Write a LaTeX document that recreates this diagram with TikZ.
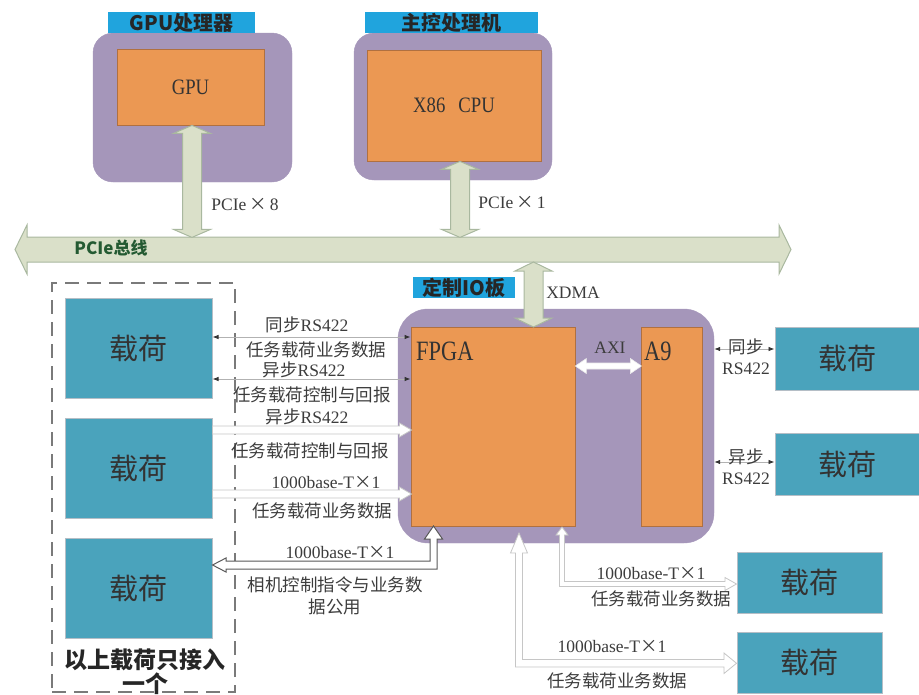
\documentclass[tikz,border=0pt]{standalone}
\usepackage{fontspec}
\usepackage{graphicx}
\setmainfont{Liberation Serif}
\newfontfamily\cjk{Noto Sans CJK SC}
\usetikzlibrary{arrows.meta,calc}
\newcommand\zh[1]{{\cjk #1}}
\newcommand\tms{{\cjk ×}}
\definecolor{tblue}{HTML}{20A4DD}
\definecolor{purp}{HTML}{A596BA}
\definecolor{orng}{HTML}{EB9853}
\definecolor{orngd}{HTML}{B07040}
\definecolor{teal1}{HTML}{4AA3BC}
\definecolor{tealb}{HTML}{B5BEC6}
\definecolor{busf}{HTML}{DAE0C9}
\definecolor{buss}{HTML}{A9B89F}
\definecolor{txt}{HTML}{3C3C3C}
\definecolor{dgreen}{HTML}{245A32}
\definecolor{grayd}{HTML}{7A7A7A}
% vertical double block arrow: style, top tip, length, shaft half, head half, head length
\newcommand\dblV[6]{\filldraw[#1] #2 -- ++(#5,#6) -- ++({#4-#5},0) -- ++(0,{#3-2*#6}) -- ++({#5-#4},0) -- ++({-#5},#6) -- ++({-#5},{-#6}) -- ++({#5-#4},0) -- ++(0,{2*#6-#3}) -- ++({#4-#5},0) -- cycle;}
% horizontal double block arrow: style, left tip, length, shaft half, head half, head length
\newcommand\dblH[6]{\filldraw[#1] #2 -- ++(#6,{-#5}) -- ++(0,{#5-#4}) -- ++({#3-2*#6},0) -- ++(0,{#4-#5}) -- ++(#6,#5) -- ++({-#6},#5) -- ++(0,{#4-#5}) -- ++({2*#6-#3},0) -- ++(0,{#5-#4}) -- cycle;}
% right single block arrow: style, left shaft centre, length, shaft half, head half, head length
\newcommand\rArr[6]{\filldraw[#1] #2 ++(0,{-#4}) -- ++({#3-#6},0) -- ++(0,{#4-#5}) -- ++(#6,#5) -- ++({-#6},#5) -- ++(0,{#4-#5}) -- ++({#6-#3},0) -- cycle;}
\begin{document}
\begin{tikzpicture}[x=1pt,y=-1pt,
  ttl/.style={fill=tblue, inner sep=0, outer sep=0, font=\cjk\bfseries\fontsize{20}{20}\selectfont, text=black!85},
  purpbox/.style={fill=purp, draw=purp, rounded corners=20pt, inner sep=0},
  chip/.style={fill=orng, draw=orngd, line width=0.8pt, inner sep=0, font=\fontsize{22}{22}\selectfont, text=black!80},
  payload/.style={fill=teal1, draw=tealb, line width=1pt, inner sep=0, font=\cjk\fontsize{29}{29}\selectfont, text=black!80},
  lbl/.style={font=\fontsize{17.5}{17.5}\selectfont, text=txt, inner sep=0},
  biglat/.style={font=\fontsize{28}{28}\selectfont, text=black!80, inner sep=0},
  tharrow/.style={draw=gray!60, line width=0.8pt, >={Latex[length=6pt,width=4.5pt,color=black!80]}, <->},
  busarrow/.style={fill=busf, draw=buss, line width=1pt},
  warrow/.style={fill=white, draw=gray!45, line width=0.8pt},
  darrow/.style={fill=white, draw=black!65, line width=1pt},
  axarrow/.style={fill=white, draw=white!85!gray, line width=0.6pt}
]
\useasboundingbox (0,0) rectangle (919,694);
\clip (0,0) rectangle (919,694);

% GPU processor
\node[purpbox, minimum width=199pt, minimum height=149pt] (gpuout) at (192.5,107.5) {};
\node[chip, minimum width=147pt, minimum height=76pt] (gpuin) at (190.5,87) {\scalebox{0.85}[1]{GPU}};
\node[ttl, minimum width=147pt, minimum height=21pt] (gputtl) at (181.5,22.5) {GPU处理器};

% main control
\node[purpbox, minimum width=198pt, minimum height=147pt] (cpuout) at (453,106.5) {};
\node[chip, minimum width=174pt, minimum height=111pt] (cpuin) at (454,105.5) {\scalebox{0.85}[1]{X86\hspace{0.7em}CPU}};
\node[ttl, minimum width=173pt, minimum height=21pt] (cputtl) at (451.5,22.5) {主控处理机};

% IO board
\node[purpbox, rounded corners=30pt, minimum width=316pt, minimum height=234pt] (io) at (556,426) {};
\node[chip, minimum width=164pt, minimum height=199pt] (fpga) at (493,426.5) {};
\node[chip, minimum width=61pt, minimum height=199pt] (a9) at (671.5,426.5) {};
\node[ttl, minimum width=102pt, minimum height=21pt] (iottl) at (464,287.5) {定制IO板};
\node[biglat, anchor=west] (fpgat) at (416,351) {\scalebox{0.8}[1]{FPGA}};
\node[biglat, anchor=west] (a9t) at (644,351) {\scalebox{0.8}[1]{A9}};

% PCIe bus
\coordinate (busL) at (15,249.5);
\dblH{busarrow}{(busL)}{776}{12.5}{24.5}{12}
\node[font=\cjk\bfseries\fontsize{17}{17}\selectfont, text=dgreen, inner sep=0] (bustxt) at (111,248) {PCIe总线};

% vertical links
\dblV{busarrow}{($(gpuin.south)+(1.5,0)$)}{112}{9.5}{18.5}{8}
\dblV{busarrow}{($(cpuin.south)+(6,0)$)}{76}{9.5}{18.5}{8}
\coordinate (xdt) at (533.5,262);
\dblV{busarrow}{(xdt)}{65}{9.5}{18.5}{9}

% AXI
\coordinate (yg) at (0,366);
\dblH{axarrow}{(fpga.east |- yg)}{66}{3}{7.5}{11}

% left group
\node[draw=grayd, dashed, dash pattern=on 14pt off 8pt, line width=1.3pt, minimum width=183pt, minimum height=409pt, inner sep=0] (grp) at (143.5,487.5) {};
\node[payload, minimum width=147pt, minimum height=100pt] (lp1) at (138.5,348) {载荷};
\node[payload, minimum width=147pt, minimum height=100pt] (lp2) at (138.5,468) {载荷};
\node[payload, minimum width=147pt, minimum height=100pt] (lp3) at (138.5,588) {载荷};
\node[font=\cjk\bfseries\fontsize{23}{23}\selectfont, text=black!85, inner sep=0] (note1) at (145,660) {以上载荷只接入};
\node[font=\cjk\bfseries\fontsize{23}{23}\selectfont, text=black!85, inner sep=0] (note2) at (145,684) {一个};

% right payloads
\node[payload, minimum width=145pt, minimum height=63pt] (rp1) at (847.5,358.5) {载荷};
\node[payload, minimum width=145pt, minimum height=62pt] (rp2) at (847.5,464) {载荷};
\node[payload, minimum width=145pt, minimum height=61pt] (rp3) at (809.5,582.5) {载荷};
\node[payload, minimum width=145pt, minimum height=61pt] (rp4) at (809.5,662.5) {载荷};

% thin RS422 links
\coordinate (ya) at (0,337);
\coordinate (yb) at (0,379);
\coordinate (yc) at (0,349);
\coordinate (yd) at (0,462);
\draw[tharrow] (lp1.east |- ya) -- (fpga.west |- ya);
\draw[tharrow] (lp1.east |- yb) -- (fpga.west |- yb);
\draw[tharrow] (io.east |- yc) -- (rp1.west |- yc);
\draw[tharrow] (io.east |- yd) -- (rp2.west |- yd);

% white block arrows left
\coordinate (ye) at (0,430);
\coordinate (yf) at (0,494);
\rArr{warrow}{(lp2.east |- ye)}{199}{4}{7}{12}
\rArr{warrow}{(lp2.east |- yf)}{199}{4}{7}{12}

% bottom left L arrow (FPGA <-> lp3)
\filldraw[darrow] (433.5,526) -- (442.5,539) -- (437,539) -- (437,569) -- (226,569) -- (226,572) -- (lp3.east |- 0,565) -- (226,558) -- (226,561) -- (430,561) -- (430,539) -- (424.5,539) -- cycle;

% bottom right L arrows
\filldraw[warrow] (562,527) -- (568,535) -- (564.5,535) -- (564.5,581.5) -- (725,581.5) -- (725,577.5) -- (rp3.west |- 0,584) -- (725,590.5) -- (725,586.5) -- (559.5,586.5) -- (559.5,535) -- (556,535) -- cycle;
\filldraw[warrow] (519,533) -- (527.5,553) -- (522.5,553) -- (522.5,659.5) -- (724,659.5) -- (724,653) -- (rp4.west |- 0,663.25) -- (724,673.5) -- (724,667) -- (515.5,667) -- (515.5,553) -- (510.5,553) -- cycle;

% labels
\node[lbl] (p8) at (245,204) {PCIe\,\tms\,8};
\node[lbl] (p1) at (512,202) {PCIe\,\tms\,1};
\node[lbl] (xdma) at (573,293) {XDMA};
\node[lbl] (axi) at (610,348) {AXI};
\node[lbl] (t1) at (307,325) {\zh{同步}RS422};
\node[lbl] (t2) at (316,350) {\zh{任务载荷业务数据}};
\node[lbl] (t3) at (304,370) {\zh{异步}RS422};
\node[lbl] (t4) at (312,395) {\zh{任务载荷控制与回报}};
\node[lbl] (t5) at (307,417) {\zh{异步}RS422};
\node[lbl] (t6) at (310,451) {\zh{任务载荷控制与回报}};
\node[lbl] (t7) at (326,482) {1000base-T\tms 1};
\node[lbl] (t8) at (322,511) {\zh{任务载荷业务数据}};
\node[lbl] (t9) at (340,552) {1000base-T\tms 1};
\node[lbl] (t10) at (335,585) {\zh{相机控制指令与业务数}};
\node[lbl] (t11) at (335,607) {\zh{据公用}};
\node[lbl] (t12) at (651,573) {1000base-T\tms 1};
\node[lbl] (t13) at (661,599) {\zh{任务载荷业务数据}};
\node[lbl] (t14) at (612,646) {1000base-T\tms 1};
\node[lbl] (t15) at (617,681) {\zh{任务载荷业务数据}};
\node[lbl] (t16) at (746,347) {\zh{同步}};
\node[lbl] (t17) at (746,369) {RS422};
\node[lbl] (t18) at (746,457) {\zh{异步}};
\node[lbl] (t19) at (746,479) {RS422};
\end{tikzpicture}
\end{document}
